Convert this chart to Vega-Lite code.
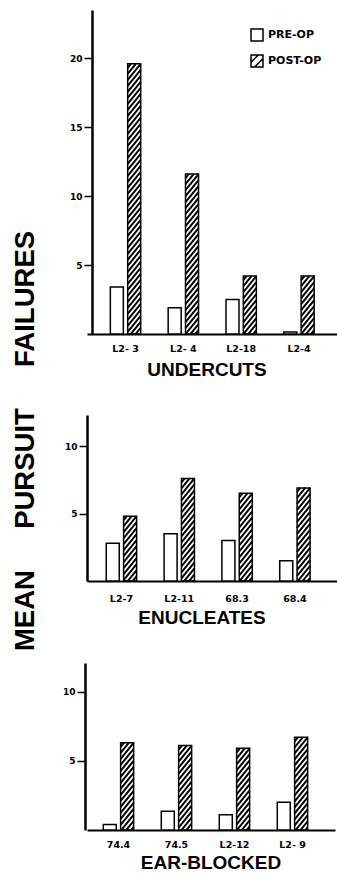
{
  "$schema": "https://vega.github.io/schema/vega-lite/v6.json",
  "background": "white",
  "padding": {"left": 11, "top": 10, "right": 0, "bottom": 0},
  "spacing": 35,
  "title": {
    "text": "MEAN\u2003\u2002PURSUIT\u2003\u2002FAILURES",
    "orient": "left",
    "anchor": "middle",
    "font": "Liberation Sans",
    "fontWeight": "bold",
    "fontSize": 27.5,
    "color": "black",
    "offset": 23
  },
  "datasets": {
    "bars": [
      {"panel": "UNDERCUTS", "group": "L2- 3", "cond": "PRE-OP", "value": 3.4},
      {"panel": "UNDERCUTS", "group": "L2- 3", "cond": "POST-OP", "value": 19.6},
      {"panel": "UNDERCUTS", "group": "L2- 4", "cond": "PRE-OP", "value": 1.9},
      {"panel": "UNDERCUTS", "group": "L2- 4", "cond": "POST-OP", "value": 11.6},
      {"panel": "UNDERCUTS", "group": "L2-18", "cond": "PRE-OP", "value": 2.5},
      {"panel": "UNDERCUTS", "group": "L2-18", "cond": "POST-OP", "value": 4.2},
      {"panel": "UNDERCUTS", "group": "L2-4", "cond": "PRE-OP", "value": 0.15},
      {"panel": "UNDERCUTS", "group": "L2-4", "cond": "POST-OP", "value": 4.2},
      {"panel": "ENUCLEATES", "group": "L2-7", "cond": "PRE-OP", "value": 2.8},
      {"panel": "ENUCLEATES", "group": "L2-7", "cond": "POST-OP", "value": 4.8},
      {"panel": "ENUCLEATES", "group": "L2-11", "cond": "PRE-OP", "value": 3.5},
      {"panel": "ENUCLEATES", "group": "L2-11", "cond": "POST-OP", "value": 7.6},
      {"panel": "ENUCLEATES", "group": "68.3", "cond": "PRE-OP", "value": 3.0},
      {"panel": "ENUCLEATES", "group": "68.3", "cond": "POST-OP", "value": 6.5},
      {"panel": "ENUCLEATES", "group": "68.4", "cond": "PRE-OP", "value": 1.5},
      {"panel": "ENUCLEATES", "group": "68.4", "cond": "POST-OP", "value": 6.9},
      {"panel": "EAR-BLOCKED", "group": "74.4", "cond": "PRE-OP", "value": 0.4},
      {"panel": "EAR-BLOCKED", "group": "74.4", "cond": "POST-OP", "value": 6.3},
      {"panel": "EAR-BLOCKED", "group": "74.5", "cond": "PRE-OP", "value": 1.35},
      {"panel": "EAR-BLOCKED", "group": "74.5", "cond": "POST-OP", "value": 6.1},
      {"panel": "EAR-BLOCKED", "group": "L2-12", "cond": "PRE-OP", "value": 1.1},
      {"panel": "EAR-BLOCKED", "group": "L2-12", "cond": "POST-OP", "value": 5.9},
      {"panel": "EAR-BLOCKED", "group": "L2- 9", "cond": "PRE-OP", "value": 2.0},
      {"panel": "EAR-BLOCKED", "group": "L2- 9", "cond": "POST-OP", "value": 6.7}
    ]
  },
  "config": {
    "view": {"stroke": null},
    "axis": {
      "domainColor": "black", "tickColor": "black", "labelColor": "black", "titleColor": "black",
      "grid": false, "labelFont": "DejaVu Sans", "labelFontWeight": "bold",
      "titleFont": "Liberation Sans", "titleFontWeight": "bold"
    },
    "axisX": {"domainWidth": 2, "ticks": false, "labelAngle": 0, "labelFontSize": 9.5, "titleFontSize": 19, "titleBaseline": "top"},
    "axisY": {"domainWidth": 2.5, "tickSize": 8, "tickWidth": 1.5, "labelFontSize": 9, "labelPadding": 2}
  },
  "resolve": {"scale": {"fill": "independent"}, "legend": {"fill": "independent"}},
  "vconcat": [
    {
      "width": 252, "height": 324,
      "data": {"name": "bars"},
      "transform": [{"filter": "datum.panel === 'UNDERCUTS'"}],
      "encoding": {
        "x": {"field": "group", "type": "nominal", "sort": null,
              "scale": {"paddingInner": 0.4, "paddingOuter": 0.379, "align": 0.483},
              "axis": {"title": "UNDERCUTS", "labelPadding": 9, "titleX": 119.5, "titleY": 26.5}},
        "xOffset": {"field": "cond", "type": "nominal", "sort": ["PRE-OP", "POST-OP"], "scale": {"paddingInner": 0, "paddingOuter": 0}},
        "y": {"field": "value", "type": "quantitative", "scale": {"domain": [0, 23.5], "nice": false},
              "axis": {"title": null, "values": [5, 10, 15, 20], "offset": -5}}
      },
      "layer": [
        {
          "transform": [{"filter": "datum.cond === 'POST-OP'"}],
          "mark": {"type": "point", "size": 4, "filled": false, "stroke": "black", "strokeWidth": 2, "opacity": 1, "clip": true,
            "shape": "M-6.5,4L-3.25,0M-6.5,10L1.625,0M-6.5,16L6.5,0M-6.5,22L6.5,6M-6.5,28L6.5,12M-6.5,34L6.5,18M-6.5,40L6.5,24M-6.5,46L6.5,30M-6.5,52L6.5,36M-6.5,58L6.5,42M-6.5,64L6.5,48M-6.5,70L6.5,54M-6.5,76L6.5,60M-6.5,82L6.5,66M-6.5,88L6.5,72M-6.5,94L6.5,78M-6.5,100L6.5,84M-6.5,106L6.5,90M-6.5,112L6.5,96M-6.5,118L6.5,102M-6.5,124L6.5,108M-6.5,130L6.5,114M-6.5,136L6.5,120M-6.5,142L6.5,126M-6.5,148L6.5,132M-6.5,154L6.5,138M-6.5,160L6.5,144M-6.5,166L6.5,150M-6.5,172L6.5,156M-6.5,178L6.5,162M-6.5,184L6.5,168M-6.5,190L6.5,174M-6.5,196L6.5,180M-6.5,202L6.5,186M-6.5,208L6.5,192M-6.5,214L6.5,198M-6.5,220L6.5,204M-6.5,226L6.5,210M-6.5,232L6.5,216M-6.5,238L6.5,222M-6.5,244L6.5,228M-6.5,250L6.5,234M-6.5,256L6.5,240M-6.5,262L6.5,246M-6.5,268L6.5,252M-6.5,274L6.5,258M-6.5,280L6.5,264M-6.5,286L6.5,270M-6.5,292L6.5,276M-6.5,298L6.5,282"}
        },
        {
          "mark": {"type": "bar", "width": 13, "stroke": "black", "strokeWidth": 1.5},
          "encoding": {
            "fill": {"field": "cond", "type": "nominal",
              "scale": {"domain": ["PRE-OP", "POST-OP"], "range": ["white", "rgba(0,0,0,0)"]},
              "legend": {
                "orient": "none", "legendX": 163, "legendY": 18, "title": null, "padding": 0,
                "symbolType": "square", "symbolSize": 144, "symbolStrokeColor": "black", "symbolStrokeWidth": 1.5,
                "labelFont": "DejaVu Sans", "labelFontWeight": "bold", "labelFontSize": 11, "labelColor": "black",
                "labelOffset": 4, "rowPadding": 8,
                "encoding": {"symbols": {"shape": {"condition": {"test": "datum.value === 'POST-OP'", "value": "M-1,-1H1V1H-1ZM-1,0.2L0.2,-1M-0.4,1L1,-0.4"}, "value": "square"}}}
              }}
          }
        }
      ]
    },
    {
      "width": 252, "height": 166,
      "data": {"name": "bars"},
      "transform": [{"filter": "datum.panel === 'ENUCLEATES'"}],
      "encoding": {
        "x": {"field": "group", "type": "nominal", "sort": null,
              "scale": {"paddingInner": 0.4, "paddingOuter": 0.379, "align": 0.39},
              "axis": {"title": "ENUCLEATES", "labelPadding": 12, "titleX": 114.5, "titleY": 27.5}},
        "xOffset": {"field": "cond", "type": "nominal", "sort": ["PRE-OP", "POST-OP"], "scale": {"paddingInner": 0, "paddingOuter": 0}},
        "y": {"field": "value", "type": "quantitative", "scale": {"domain": [0, 12.3], "nice": false},
              "axis": {"title": null, "values": [5, 10]}}
      },
      "layer": [
        {
          "transform": [{"filter": "datum.cond === 'POST-OP'"}],
          "mark": {"type": "point", "size": 4, "filled": false, "stroke": "black", "strokeWidth": 2, "opacity": 1, "clip": true,
            "shape": "M-6.5,4L-3.25,0M-6.5,10L1.625,0M-6.5,16L6.5,0M-6.5,22L6.5,6M-6.5,28L6.5,12M-6.5,34L6.5,18M-6.5,40L6.5,24M-6.5,46L6.5,30M-6.5,52L6.5,36M-6.5,58L6.5,42M-6.5,64L6.5,48M-6.5,70L6.5,54M-6.5,76L6.5,60M-6.5,82L6.5,66M-6.5,88L6.5,72M-6.5,94L6.5,78M-6.5,100L6.5,84M-6.5,106L6.5,90M-6.5,112L6.5,96M-6.5,118L6.5,102M-6.5,124L6.5,108"}
        },
        {
          "mark": {"type": "bar", "width": 13, "stroke": "black", "strokeWidth": 1.5},
          "encoding": {
            "fill": {"field": "cond", "type": "nominal",
              "scale": {"domain": ["PRE-OP", "POST-OP"], "range": ["white", "rgba(0,0,0,0)"]},
              "legend": null}
          }
        }
      ]
    },
    {
      "width": 248, "height": 167,
      "data": {"name": "bars"},
      "transform": [{"filter": "datum.panel === 'EAR-BLOCKED'"}],
      "encoding": {
        "x": {"field": "group", "type": "nominal", "sort": null,
              "scale": {"paddingInner": 0.4, "paddingOuter": 0.338, "align": 0.36},
              "axis": {"title": "EAR-BLOCKED", "labelPadding": 9, "titleX": 123.5, "titleY": 23}},
        "xOffset": {"field": "cond", "type": "nominal", "sort": ["PRE-OP", "POST-OP"], "scale": {"paddingInner": 0, "paddingOuter": 0}},
        "y": {"field": "value", "type": "quantitative", "scale": {"domain": [0, 12.07], "nice": false},
              "axis": {"title": null, "values": [5, 10], "offset": 2}}
      },
      "layer": [
        {
          "transform": [{"filter": "datum.cond === 'POST-OP'"}],
          "mark": {"type": "point", "size": 4, "filled": false, "stroke": "black", "strokeWidth": 2, "opacity": 1, "clip": true,
            "shape": "M-6.5,4L-3.25,0M-6.5,10L1.625,0M-6.5,16L6.5,0M-6.5,22L6.5,6M-6.5,28L6.5,12M-6.5,34L6.5,18M-6.5,40L6.5,24M-6.5,46L6.5,30M-6.5,52L6.5,36M-6.5,58L6.5,42M-6.5,64L6.5,48M-6.5,70L6.5,54M-6.5,76L6.5,60M-6.5,82L6.5,66M-6.5,88L6.5,72M-6.5,94L6.5,78M-6.5,100L6.5,84M-6.5,106L6.5,90M-6.5,112L6.5,96M-6.5,118L6.5,102M-6.5,124L6.5,108"}
        },
        {
          "mark": {"type": "bar", "width": 13, "stroke": "black", "strokeWidth": 1.5},
          "encoding": {
            "fill": {"field": "cond", "type": "nominal",
              "scale": {"domain": ["PRE-OP", "POST-OP"], "range": ["white", "rgba(0,0,0,0)"]},
              "legend": null}
          }
        }
      ]
    }
  ]
}
